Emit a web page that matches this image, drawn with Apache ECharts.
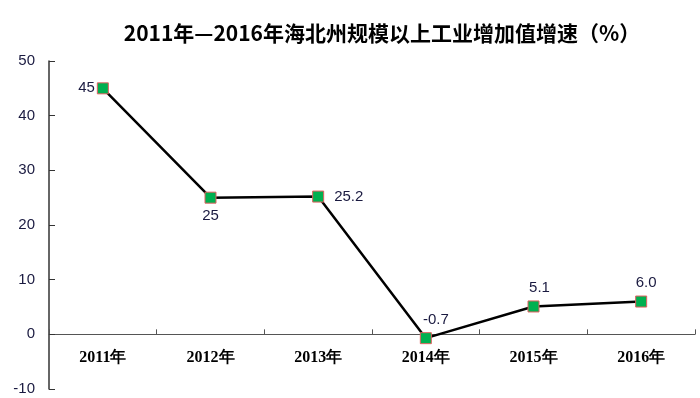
<!DOCTYPE html>
<html><head><meta charset="utf-8">
<script src="https://cdn.jsdelivr.net/npm/echarts@6/dist/echarts.min.js"></script>
<style>html,body{margin:0;padding:0;background:#fff}#c{width:700px;height:398px}</style>
</head><body><div id="c"></div>
<script>
var titleText = '2011年—2016年海北州规模以上工业增加值增速（%）';
var categories = ['2011年','2012年','2013年','2014年','2015年','2016年'];
var values = [45, 25, 25.2, -0.7, 5.1, 6.0];
var labelTexts = ['45','25','25.2','-0.7','5.1','6.0'];

var labelStyles = [
  {position:'left', distance:2},
  {position:'bottom', distance:5},
  {position:'right', distance:10},
  {position:'top', distance:5, offset:[10,0]},
  {position:'top', distance:5, offset:[6,0]},
  {position:'top', distance:5, offset:[5,0]}
];

var chart = echarts.init(document.getElementById('c'));
var data = values.map(function(v,i){
  var l = Object.assign({formatter:labelTexts[i]}, labelStyles[i]);
  return {value:v, label:l};
});
chart.setOption({
  animation:false,
  title:{text:titleText,left:377,top:18,textAlign:'center',
    textStyle:{fontFamily:'Noto Sans CJK SC',fontWeight:'bold',fontSize:21,color:'#000'}},
  grid:{left:49,right:5,top:61,bottom:9,containLabel:false,outerBoundsMode:'none'},
  xAxis:{type:'category',data:categories,boundaryGap:true,
    axisLine:{onZero:true,lineStyle:{color:'#555',width:1}},
    axisTick:{show:true,inside:true,length:5,alignWithLabel:false,lineStyle:{color:'#555'}},
    axisLabel:{margin:-39,fontFamily:'Liberation Serif',fontWeight:'bold',fontSize:16,color:'#000'}},
  yAxis:{type:'value',min:-10,max:50,interval:10,
    axisLine:{show:true,lineStyle:{color:'#333',width:1.5}},
    axisTick:{show:true,inside:true,length:6,lineStyle:{color:'#333'}},
    splitLine:{show:false},
    axisLabel:{margin:14,fontFamily:'Liberation Sans',fontSize:15,color:'#1a1a40'}},
  series:[{type:'line',data:data,symbol:'rect',symbolSize:11,
    lineStyle:{color:'#000',width:2.5},
    itemStyle:{color:'#00b050',borderColor:'#e06060',borderWidth:1},
    label:{show:true,fontFamily:'Liberation Sans',fontSize:15,color:'#1a1a40'}}]
});
</script></body></html>
